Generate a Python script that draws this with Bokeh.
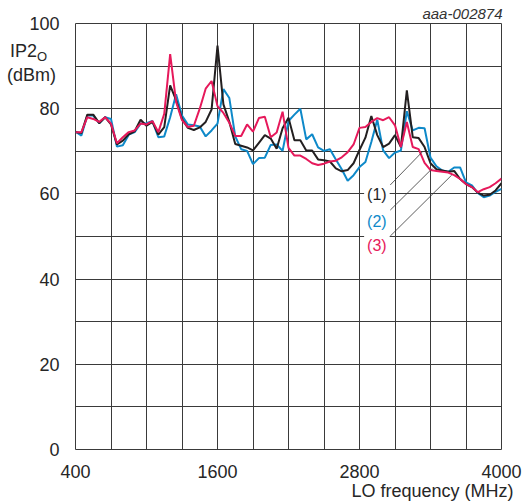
from bokeh.plotting import figure
from bokeh.models import FixedTicker, Label, Title, Div
from bokeh.layouts import column
from bokeh.embed import file_html
from bokeh.resources import INLINE

# LO frequency sweep (MHz), 50 MHz steps
freq = list(range(400, 4001, 50))

# IP2 output intercept (dBm) for the three conditions
ip2_1 = [
    74.5, 74.3, 78.6, 78.6, 76.6, 78.0, 76.3, 71.6, 72.5, 74.0, 74.7, 77.4, 76.0,   # 400-1000
    76.9, 73.9, 75.7, 85.5, 82.0, 77.6, 75.5, 75.0, 75.6, 76.9,                     # 1050-1500
    79.8, 94.8, 81.0, 76.9, 71.7, 71.3, 70.9, 70.2, 72.0, 73.8,                     # 1550-2000
    73.0, 70.6, 75.4, 77.9, 72.6, 72.6, 70.2, 70.2, 68.1, 67.9,                     # 2050-2500
    67.6, 66.0, 65.3, 65.6, 67.2, 70.3, 73.2, 78.3, 73.8, 71.0,                     # 2550-3000
    71.8, 73.8, 71.0, 84.3, 73.3, 73.1, 71.0, 67.2, 65.8, 65.5,                     # 3050-3500
    65.2, 65.4, 63.5, 62.3, 61.6, 60.3, 59.6, 59.8, 60.8, 62.5,                     # 3550-4000
]
ip2_2 = [
    74.6, 73.7, 78.4, 78.4, 76.6, 78.0, 77.6, 71.1, 71.4, 73.9, 74.5, 76.5, 76.6,
    77.1, 73.3, 73.5, 78.0, 83.4, 78.4, 76.3, 76.1, 75.8, 73.5,
    74.9, 76.5, 84.6, 82.5, 73.5, 70.5, 70.1, 67.0, 68.4, 68.5,
    71.5, 71.6, 70.1, 77.1, 78.6, 80.0, 72.8, 74.0, 70.9, 70.1,
    70.5, 68.1, 65.8, 63.1, 64.4, 66.3, 67.5, 72.2, 77.4, 70.2,
    68.4, 69.7, 70.2, 79.4, 74.9, 75.5, 75.4, 68.5, 66.5, 65.5,
    65.2, 66.2, 66.2, 62.7, 62.0, 60.2, 59.2, 59.6, 60.5, 61.2,
]
ip2_3 = [
    74.5, 74.5, 78.0, 77.6, 76.9, 78.0, 76.5, 71.9, 73.3, 74.5, 74.9, 76.5, 76.3,
    77.1, 74.5, 78.8, 92.8, 81.6, 77.3, 75.7, 76.0, 80.0, 84.7,
    86.5, 80.6, 79.0, 76.7, 73.6, 73.6, 76.3, 74.6, 77.8, 78.1,
    73.3, 74.4, 79.3, 70.8, 69.0, 69.0, 68.2, 67.2, 66.8, 67.1,
    67.6, 67.8, 68.6, 69.8, 71.6, 75.5, 75.7, 76.9, 77.8, 77.3,
    78.0, 76.1, 71.0, 76.9, 71.0, 70.5, 67.3, 65.6, 65.4, 65.2,
    65.0, 64.4, 63.5, 62.3, 61.6, 60.4, 61.1, 61.6, 62.5, 63.6,
]

x_ticks = [400, 1600, 2800, 4000]
y_ticks = [0, 20, 40, 60, 80, 100]
series_labels = ["(1)", "(2)", "(3)"]

FONT = "Liberation Sans"
TXT = "#262626"
GRID = "#3a3a3a"
BLACK = "#231f20"
BLUE = "#0e89c9"
RED = "#e6195b"

p = figure(
    width=525, height=502,
    x_range=(400, 4000), y_range=(0, 100),
    output_backend="svg", toolbar_location=None,
    min_border_left=75, min_border_right=24,
    min_border_top=23, min_border_bottom=52,
    background_fill_color="white", border_fill_color="white",
)

# figure id, top right
p.add_layout(Title(text="aaa-002874", align="right", offset=-1, standoff=3,
                   text_font=FONT, text_font_size="15px",
                   text_font_style="italic", text_color="#333333"), "above")

# x axis title, right aligned below the tick labels
p.add_layout(Title(text="LO frequency (MHz)", align="right", offset=-12, standoff=0,
                   vertical_align="top",
                   text_font=FONT, text_font_size="18px",
                   text_font_style="normal", text_color=TXT), "below")

# grid: every 300 MHz and every 10 dBm
p.xgrid.ticker = FixedTicker(ticks=list(range(400, 4001, 300)))
p.ygrid.ticker = FixedTicker(ticks=list(range(0, 101, 10)))
for g in (p.xgrid, p.ygrid):
    g.grid_line_color = GRID
    g.grid_line_width = 1
    g.grid_line_alpha = 1.0

p.outline_line_color = GRID
p.outline_line_width = 1

p.xaxis.ticker = FixedTicker(ticks=x_ticks)
p.yaxis.ticker = FixedTicker(ticks=y_ticks)
for ax in (p.xaxis, p.yaxis):
    ax.axis_line_color = None
    ax.major_tick_line_color = None
    ax.minor_tick_line_color = None
    ax.major_label_text_font = FONT
    ax.major_label_text_font_size = "18px"
    ax.major_label_text_color = TXT
p.xaxis.major_label_standoff = 9
p.yaxis.major_label_standoff = 10

# curves
p.line(freq, ip2_2, line_color=BLUE, line_width=2)
p.line(freq, ip2_1, line_color=BLACK, line_width=2)
p.line(freq, ip2_3, line_color=RED, line_width=2)

# leader lines from the series labels to their curves
p.segment(x0=[3060, 3060, 3060], y0=[62.1, 56.2, 50.1],
          x1=[3332, 3416, 3579], y1=[69.9, 66.0, 64.4],
          line_color="#333333", line_width=0.8)

for text, yv, col in zip(series_labels, [59.9, 53.5, 48.0], [TXT, BLUE, RED]):
    p.add_layout(Label(x=2947, y=yv, text=text, text_align="center",
                       text_baseline="middle", text_font=FONT,
                       text_font_size="16px", text_color=col,
                       background_fill_color="white", padding=3))

# y axis title (IP2 with subscript O, unit below), laid over the left margin
ytitle = Div(
    text=('<span style="margin-left:3px">IP2</span>'
          '<span style="font-size:13px;position:relative;top:4px">O</span>'
          '<br>(dBm)'),
    styles={"position": "absolute", "left": "7px", "top": "40px",
            "font-family": FONT, "font-size": "18px", "line-height": "22px",
            "color": TXT, "margin": "0", "padding": "0"},
)

open("out.html", "w").write(file_html(column(p, ytitle), INLINE))
